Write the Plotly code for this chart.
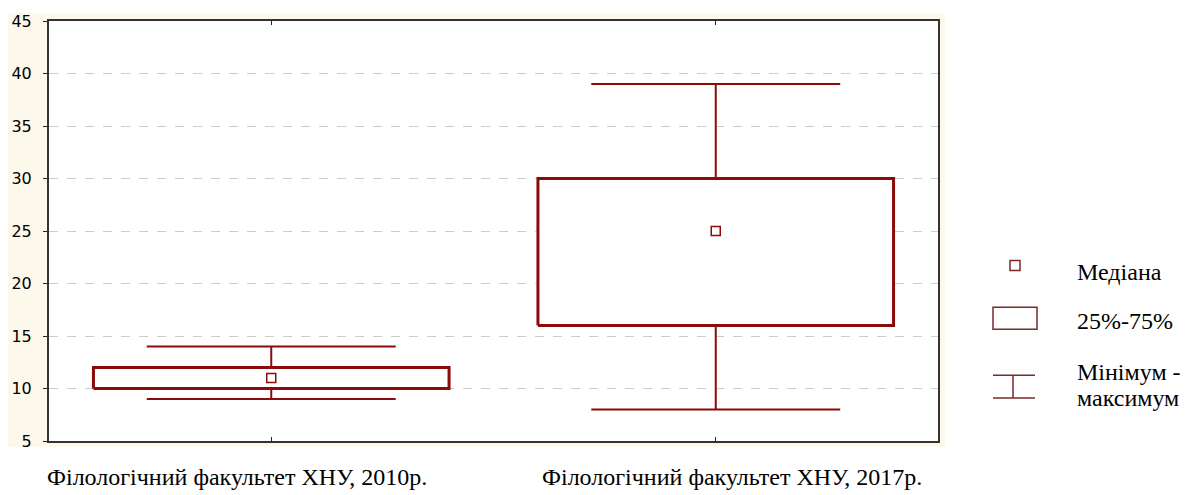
import plotly.graph_objects as go

# Дані
categories = ["Філологічний факультет ХНУ, 2010р.", "Філологічний факультет ХНУ, 2017р."]
minimum = [9, 8]
q1 = [10, 16]
median = [11, 25]
q3 = [12, 30]
maximum = [14, 39]

RED = "#8b0a0a"
BOX_HW = 0.4   # половина ширини коробки
CAP_HW = 0.28  # половина ширини вусів

fig = go.Figure()

for i, cat in enumerate(categories):
    # вуса
    fig.add_trace(go.Scatter(
        x=[i, i, None, i, i, None, i - CAP_HW, i + CAP_HW, None, i - CAP_HW, i + CAP_HW],
        y=[q3[i], maximum[i], None, q1[i], minimum[i], None, maximum[i], maximum[i], None, minimum[i], minimum[i]],
        mode="lines", line=dict(color=RED, width=2), showlegend=False, hoverinfo="skip"
    ))
    # коробка 25%-75%
    fig.add_trace(go.Scatter(
        x=[i - BOX_HW, i + BOX_HW, i + BOX_HW, i - BOX_HW, i - BOX_HW],
        y=[q1[i], q1[i], q3[i], q3[i], q1[i]],
        mode="lines", line=dict(color=RED, width=3), fill="toself", fillcolor="white",
        showlegend=False, hoverinfo="skip"
    ))
    # медіана
    fig.add_trace(go.Scatter(
        x=[i], y=[median[i]], mode="markers",
        marker=dict(symbol="square-open", size=9, color=RED, line=dict(width=1.5)),
        showlegend=False, hovertemplate="Медіана: %{y}<extra></extra>"
    ))

# координати сторінки -> частки області графіка (сторінка має відступ 8px)
def px(x):
    return (x - 49) / 889

def py(y):
    return (441 - y) / 421

# кремовий фон навколо області графіка, сама область - біла
fig.add_shape(type="rect", xref="paper", yref="paper", x0=px(5), x1=px(945), y0=py(447), y1=py(12),
              fillcolor="#fdf8ec", line=dict(width=0), layer="below")
fig.add_shape(type="rect", xref="paper", yref="paper", x0=0, x1=1, y0=0, y1=1,
              fillcolor="white", line=dict(width=0), layer="below")

# легенда (власна)
leg = "#7a2a2a"
fig.add_shape(type="rect", xref="paper", yref="paper", x0=px(1010), x1=px(1020), y0=py(270), y1=py(260),
              line=dict(color=leg, width=1.5))
fig.add_shape(type="rect", xref="paper", yref="paper", x0=px(993), x1=px(1037), y0=py(329), y1=py(307),
              line=dict(color=leg, width=1.5))
for y0 in (375, 398):
    fig.add_shape(type="line", xref="paper", yref="paper", x0=px(993), x1=px(1035), y0=py(y0), y1=py(y0),
                  line=dict(color=leg, width=1.5))
fig.add_shape(type="line", xref="paper", yref="paper", x0=px(1013), x1=px(1013), y0=py(375), y1=py(398),
              line=dict(color=leg, width=1.5))

serif = "Liberation Serif, Times New Roman, serif"
for txt, y in [("Медіана", 272), ("25%-75%", 321), ("Мінімум -", 372), ("максимум", 398)]:
    fig.add_annotation(text=txt, xref="paper", yref="paper", x=px(1075), y=py(y), xanchor="left",
                       yanchor="middle", showarrow=False, font=dict(family=serif, size=24, color="black"))

# підписи категорій
for txt, x in zip(categories, [45, 540]):
    fig.add_annotation(text=txt, xref="paper", yref="paper", x=px(x), y=py(477), xanchor="left",
                       yanchor="middle", showarrow=False, font=dict(family=serif, size=24, color="black"))

fig.update_layout(
    width=1184, height=487,
    margin=dict(l=41, r=254, t=13, b=54),
    paper_bgcolor="white", plot_bgcolor="white",
    showlegend=False,
    xaxis=dict(
        range=[-0.5, 1.5], tickvals=[0, 1], ticktext=["", ""], automargin=False,
        showgrid=False, zeroline=False, showline=True, mirror="ticks",
        linecolor="#333333", linewidth=2, ticks="inside", ticklen=4, tickcolor="#222"
    ),
    yaxis=dict(
        range=[5, 45], dtick=5, showgrid=True, gridcolor="#cccccc", griddash="dash", gridwidth=1,
        zeroline=False, showline=True, mirror=True, linecolor="#333333", linewidth=2,
        ticks="outside", ticklen=4, tickcolor="#222", ticklabelstandoff=8, automargin=False,
        tickfont=dict(family="DejaVu Sans, Verdana, sans-serif", size=16, color="black")
    ),
)

fig.write_html("out.html")
